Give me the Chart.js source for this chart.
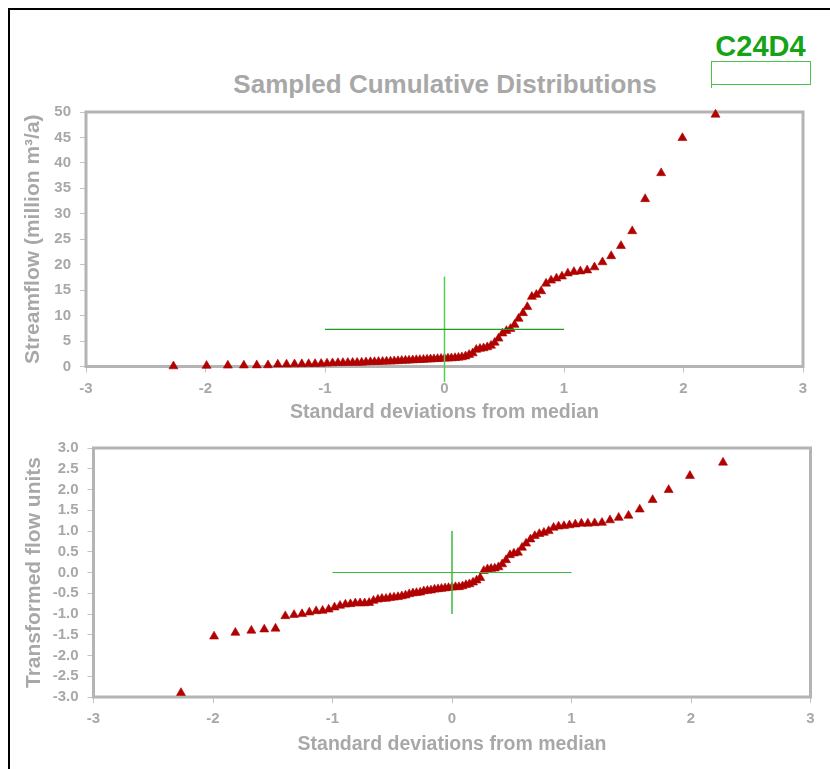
<!DOCTYPE html>
<html><head><meta charset="utf-8">
<script src="https://cdn.jsdelivr.net/npm/chart.js@4/dist/chart.umd.min.js"></script>
<style>
html,body{margin:0;padding:0;background:#fff;width:830px;height:769px;overflow:hidden;}
#frame{position:absolute;left:8px;top:8px;width:840px;height:780px;border-left:2px solid #000;border-top:2px solid #000;}
#title{position:absolute;left:145px;width:600px;top:69px;text-align:center;font:bold 26px "Liberation Sans",Arial,sans-serif;color:#a8a8a8;white-space:nowrap;}
#tag{position:absolute;left:690px;width:141px;top:30px;text-align:center;font:bold 29px "Liberation Sans",Arial,sans-serif;color:#16a316;}
#tagbox{position:absolute;left:711px;top:61px;width:98px;height:22px;border:1px solid #4cc44c;}
#tagtick{position:absolute;left:711px;top:84px;width:1px;height:4px;background:#4cc44c;}
canvas{position:absolute;left:0;}
</style></head>
<body>
<div id="frame"></div>
<div id="title">Sampled Cumulative Distributions</div>
<div id="tag">C24D4</div>
<div id="tagbox"></div>
<div id="tagtick"></div>
<canvas id="c1" width="830" height="430" style="top:0px"></canvas>
<canvas id="c2" width="830" height="339" style="top:430px"></canvas>
<script>
// Standard normal scores of the sorted samples (x positions)
const zScores = [-2.268,-1.991,-1.813,-1.679,-1.571,-1.477,-1.395,-1.322,-1.255,-1.194,-1.137,-1.083,-1.032,-0.983,-0.937,-0.892,-0.850,-0.809,-0.769,-0.731,-0.693,-0.657,-0.620,-0.586,-0.552,-0.518,-0.485,-0.452,-0.420,-0.389,-0.358,-0.327,-0.297,-0.266,-0.236,-0.206,-0.176,-0.146,-0.117,-0.088,-0.058,-0.029,
0,
0.029,0.058,0.088,0.117,0.146,0.176,0.206,0.236,0.266,0.297,0.327,0.358,0.389,0.420,0.452,0.485,0.518,0.552,0.586,0.620,0.657,0.693,0.731,0.769,0.809,0.850,0.892,0.937,0.983,1.032,1.083,1.137,1.194,1.255,1.322,1.395,1.477,1.571,1.679,1.813,1.991,2.268];

// Streamflow (million m3/a)
const streamflow = [0.05,0.15,0.2,0.22,0.24,0.26,0.4,0.42,0.45,0.48,0.5,0.52,0.55,0.62,0.66,0.7,0.72,0.74,0.75,0.76,0.78,0.84,0.88,0.9,0.92,0.95,0.98,1.0,1.04,1.08,1.13,1.17,1.2,1.23,1.28,1.31,1.34,1.38,1.42,1.45,1.5,1.53,
1.57,
1.6,1.63,1.68,1.75,1.85,2.0,2.3,2.6,3.3,3.5,3.6,3.8,4.1,4.7,5.5,6.5,7.0,7.4,8.2,9.4,10.5,11.7,13.7,14.1,14.8,16.3,16.9,17.3,17.7,18.3,18.6,18.7,18.9,19.5,20.5,21.7,23.7,26.6,32.9,38.0,44.9,49.5];

// Transformed flow units
const transformed = [-2.9,-1.54,-1.45,-1.40,-1.37,-1.35,-1.05,-1.02,-1.00,-0.96,-0.93,-0.92,-0.89,-0.84,-0.80,-0.77,-0.76,-0.74,-0.74,-0.74,-0.73,-0.68,-0.65,-0.63,-0.63,-0.61,-0.60,-0.59,-0.57,-0.55,-0.52,-0.50,-0.49,-0.48,-0.45,-0.44,-0.43,-0.41,-0.40,-0.39,-0.38,-0.37,
-0.36,
-0.35,-0.35,-0.33,-0.30,-0.28,-0.24,-0.19,-0.13,0.04,0.08,0.09,0.10,0.13,0.20,0.30,0.42,0.46,0.48,0.60,0.70,0.80,0.88,0.93,0.96,1.00,1.08,1.11,1.12,1.14,1.16,1.18,1.18,1.19,1.20,1.26,1.32,1.37,1.52,1.75,1.99,2.33,2.65];

// Crosshairs: mean +/- one standard deviation
const topMean = 7.3, topSd = 10.36;
const bottomMean = 0.0, bottomSd = 1.0;
const crossHalfWidth = 1;

// Ticks
const xTicks = [-3,-2,-1,0,1,2,3];
const topYTicks = [0,5,10,15,20,25,30,35,40,45,50];
const bottomYTicks = [-3,-2.5,-2,-1.5,-1,-0.5,0,0.5,1,1.5,2,2.5,3];
const bottomYLabels = ['-3.0','-2.5','-2.0','-1.5','-1.0','-0.5','0.0','0.5','1.0','1.5','2.0','2.5','3.0'];

const TEXT = '#a8a8a8';
const RED = '#b00000';
Chart.defaults.font.family = "'Liberation Sans', Arial, sans-serif";
Chart.defaults.font.weight = 'bold';
Chart.defaults.color = TEXT;

const framePlugin = {
  id: 'frameBox',
  beforeDatasetsDraw(chart) {
    const {ctx, chartArea: a} = chart;
    ctx.save();
    ctx.strokeStyle = '#b4b4b4';
    ctx.lineWidth = 3;
    ctx.strokeRect(a.left, a.top, a.right - a.left, a.bottom - a.top);
    ctx.restore();
  }
};

function points(ys) { return zScores.map((z, i) => ({x: z, y: ys[i]})); }

function makeChart(id, cfg) {
  return new Chart(document.getElementById(id), {
    type: 'scatter',
    data: {
      datasets: [
        {type: 'line', data: [{x: -crossHalfWidth, y: cfg.mean}, {x: crossHalfWidth, y: cfg.mean}],
         borderColor: cfg.hColor, borderWidth: 1.2, pointRadius: 0, clip: false, order: 0},
        {type: 'line', data: [{x: 0, y: cfg.mean - cfg.sd}, {x: 0, y: cfg.mean + cfg.sd}],
         borderColor: cfg.vColor, borderWidth: 1.5, pointRadius: 0, clip: false, order: 0},
        {data: points(cfg.values), pointStyle: 'triangle', pointRadius: 5.2, pointBorderWidth: 0.6,
         backgroundColor: RED, borderColor: RED, clip: false, order: 1}
      ]
    },
    options: {
      responsive: false, animation: false,
      layout: {padding: cfg.padding},
      plugins: {legend: {display: false}, tooltip: {enabled: false}, title: {display: false}},
      scales: {
        x: {
          type: 'linear', min: -3, max: 3,
          afterBuildTicks: s => { s.ticks = xTicks.map(v => ({value: v})); },
          afterFit: s => { s.height = cfg.xHeight; },
          grid: {drawOnChartArea: false, tickLength: 6, color: '#c4c4c4'},
          border: {display: false},
          ticks: {color: TEXT, font: {size: 15, weight: 'bold'}, padding: 7, maxRotation: 0, autoSkip: false},
          title: {display: true, text: 'Standard deviations from median', color: TEXT,
                  font: {size: 19.5, weight: 'bold'}, padding: {top: 0, bottom: cfg.xTitlePad}}
        },
        y: {
          type: 'linear', min: cfg.yMin, max: cfg.yMax,
          afterBuildTicks: s => { s.ticks = cfg.yTicks.map(v => ({value: v})); },
          afterFit: s => { s.width = cfg.yWidth; },
          grid: {drawOnChartArea: false, tickLength: 6, color: '#c4c4c4'},
          border: {display: false},
          ticks: {color: TEXT, font: {size: 15, weight: 'bold'}, padding: 9, autoSkip: false,
                  callback: cfg.yLabel},
          title: {display: true, text: cfg.yTitle, color: TEXT,
                  font: {size: 21, weight: 'bold'}, padding: {top: cfg.yTitlePad, bottom: 0}}
        }
      }
    },
    plugins: [framePlugin]
  });
}

makeChart('c1', {
  values: streamflow, mean: topMean, sd: topSd,
  hColor: '#1f9a1f', vColor: '#55cc55',
  padding: {left: 0, right: 27, top: 112, bottom: 0},
  xHeight: 63.5, yWidth: 86, xTitlePad: 6, yTitlePad: 21,
  yMin: 0, yMax: 50, yTicks: topYTicks,
  yLabel: v => String(v),
  yTitle: 'Streamflow (million m³/a)'
});

makeChart('c2', {
  values: transformed, mean: bottomMean, sd: bottomSd,
  hColor: '#3cb83c', vColor: '#3cb83c',
  padding: {left: 0, right: 19.5, top: 12, bottom: 0},
  xHeight: 72, yWidth: 93.5, xTitlePad: 13, yTitlePad: 22,
  yMin: -3, yMax: 3, yTicks: bottomYTicks,
  yLabel: v => bottomYLabels[bottomYTicks.indexOf(v)] ?? v.toFixed(1),
  yTitle: 'Transformed flow units'
});
</script>
</body></html>
